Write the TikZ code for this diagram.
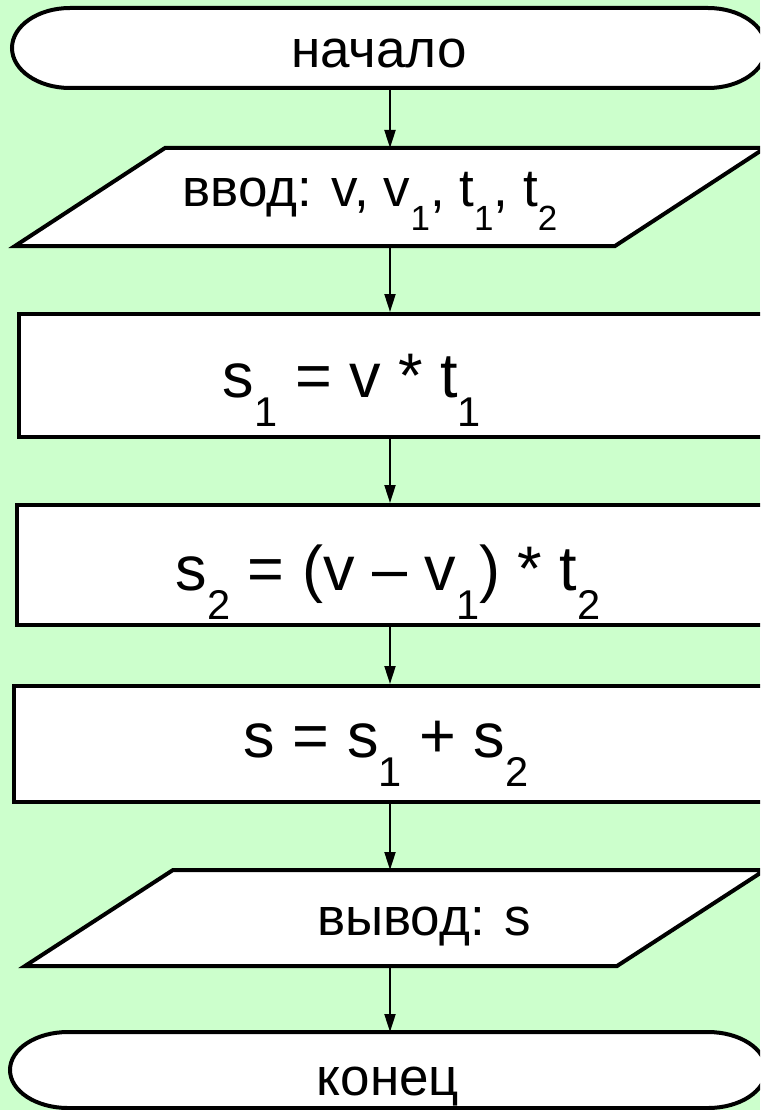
\documentclass[tikz,border=0pt]{standalone}
\usepackage{fontspec}
\setmainfont{Liberation Sans}
\usetikzlibrary{arrows.meta, positioning}
\definecolor{cbg}{HTML}{CCFFCC}
\tikzset{
  every picture/.style={line width=4pt},
  frame/.style={minimum width=#1, inner sep=0pt, outer sep=0pt},
  procbox/.style={draw, fill=white, anchor=west, minimum width=790pt, minimum height=#1, inner sep=0pt},
  txt/.style={font=\fontsize{53}{60}\selectfont, anchor=base, inner sep=0pt},
  bigtxt/.style={txt, font=\fontsize{63}{70}\selectfont},
  arrow/.style={-{Triangle[length=18pt, width=11pt]}, line width=2pt},
}
\newcommand{\sub}[1]{\raisebox{-0.47em}{\fontsize{0.66em}{1em}\selectfont #1}}

\begin{document}
\begin{tikzpicture}[x=1pt, y=-1pt]
  \fill[cbg] (0,0) rectangle (760,1110);
  \useasboundingbox (0,0) rectangle (760,1110);
  \clip (0,0) rectangle (760,1110);
  \coordinate (axis) at (390,0);

  % terminals
  \node[frame=754pt, minimum height=80pt] (start) at (389,48) {};
  \draw[fill=white] ([xshift=58]start.north west) -- ([xshift=-58]start.north east)
    arc[start angle=-90, end angle=90, x radius=58, y radius=40]
    -- ([xshift=58]start.south west)
    arc[start angle=90, end angle=270, x radius=58, y radius=40] -- cycle;
  \node[frame=756pt, minimum height=76pt] (stop) at (388,1070) {};
  \draw[fill=white] ([xshift=58]stop.north west) -- ([xshift=-58]stop.north east)
    arc[start angle=-90, end angle=90, x radius=58, y radius=38]
    -- ([xshift=58]stop.south west)
    arc[start angle=90, end angle=270, x radius=58, y radius=38] -- cycle;

  % input / output
  \node[frame=750pt, minimum height=98pt] (inp) at (390,197) {};
  \draw[fill=white] ([xshift=150]inp.north west) -- (inp.north east)
    -- ([xshift=-150]inp.south east) -- (inp.south west) -- cycle;
  \node[frame=740pt, minimum height=96pt] (outp) at (395,918) {};
  \draw[fill=white] ([xshift=148]outp.north west) -- (outp.north east)
    -- ([xshift=-148]outp.south east) -- (outp.south west) -- cycle;

  % processes
  \node[procbox=123pt] (calc1) at (17,375.5) {};
  \node[procbox=120pt] (calc2) at (15,565) {};
  \node[procbox=116pt] (calc3) at (12,744) {};

  % texts
  \node[txt] (tstart) at (379,68) {начало};
  \node[txt] (tinp) at (370,206) {ввод: v, v\sub{1}, t\sub{1}, t\sub{2}};
  \node[bigtxt] (tcalc1) at (352,397) {s\sub{1} = v * t\sub{1}};
  \node[bigtxt] (tcalc2) at (388,590) {s\sub{2} = (v – v\sub{1}) * t\sub{2}};
  \node[bigtxt] (tcalc3) at (386,757) {s = s\sub{1} + s\sub{2}};
  \node[txt] (toutp) at (424,935) {вывод: s};
  \node[txt] (tstop) at (388,1095) {конец};

  % arrows
  \draw[arrow] (start.south -| axis) -- (inp.north -| axis);
  \draw[arrow] (inp.south -| axis) -- (calc1.north -| axis);
  \draw[arrow] (calc1.south -| axis) -- (calc2.north -| axis);
  \draw[arrow] (calc2.south -| axis) -- (calc3.north -| axis);
  \draw[arrow] (calc3.south -| axis) -- (outp.north -| axis);
  \draw[arrow] (outp.south -| axis) -- (stop.north -| axis);
\end{tikzpicture}
\end{document}
